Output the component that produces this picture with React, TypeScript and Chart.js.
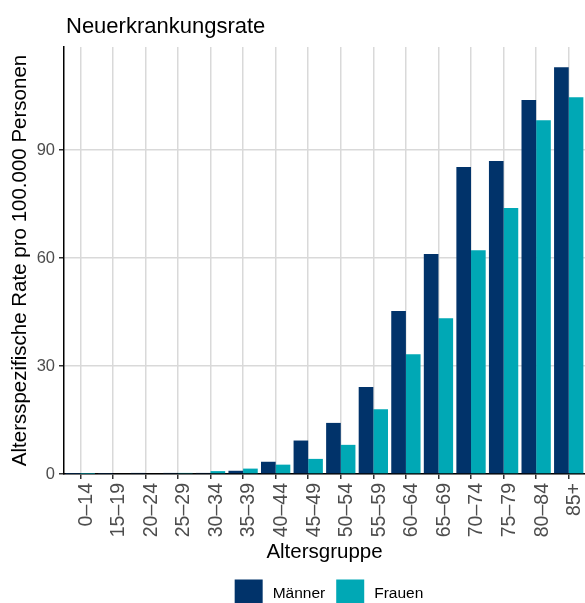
import React, { useEffect, useRef } from "react";
import { Chart, registerables } from "chart.js";

Chart.register(...registerables);

const categories = [
  "0–14", "15–19", "20–24", "25–29", "30–34", "35–39", "40–44", "45–49",
  "50–54", "55–59", "60–64", "65–69", "70–74", "75–79", "80–84", "85+",
];
const maenner = [0.05, 0.1, 0.3, 0.3, 0.3, 0.9, 3.4, 9.3, 14.2, 24.2, 45.3, 61.1, 85.3, 87.0, 103.9, 113.0];
const frauen = [0.05, 0.2, 0.2, 0.3, 0.8, 1.5, 2.6, 4.2, 8.1, 18.0, 33.3, 43.3, 62.2, 73.9, 98.3, 104.7];
const yTicks = [0, 30, 60, 90];
const seriesNames = ["Männer", "Frauen"];
const chartTitle = "Neuerkrankungsrate";
const xTitle = "Altersgruppe";
const yTitle = "Altersspezifische Rate pro 100.000 Personen";

const FONT = "'Liberation Sans', Arial, Helvetica, sans-serif";
const COLORS = ["#01336a", "#00a8b5"];

const titlePlugin = {
  id: "customTitle",
  afterDraw(chart: any) {
    const ctx = chart.ctx;
    ctx.save();
    ctx.font = `22px ${FONT}`;
    ctx.fillStyle = "#000";
    ctx.textAlign = "left";
    ctx.textBaseline = "alphabetic";
    ctx.fillText(chartTitle, chart.chartArea.left + 2, 33);
    ctx.restore();
  },
};

const legendPlugin = {
  id: "customLegend",
  afterDraw(chart: any) {
    const ctx = chart.ctx;
    ctx.save();
    ctx.font = `15.5px ${FONT}`;
    const box = 28;
    const gapText = 10;
    const gapItem = 11;
    const items = chart.data.datasets.map((d: any) => ({
      label: d.label,
      color: d.backgroundColor,
      w: ctx.measureText(d.label).width,
    }));
    const total = items.reduce(
      (s: number, it: any, i: number) => s + box + gapText + it.w + (i > 0 ? gapItem : 0),
      0
    );
    let x = (chart.chartArea.left + chart.chartArea.right) / 2 + 4.5 - total / 2;
    const cy = 593.5;
    items.forEach((it: any, i: number) => {
      if (i > 0) x += gapItem;
      ctx.fillStyle = it.color;
      ctx.fillRect(x, cy - box / 2, box, box);
      x += box + gapText;
      ctx.fillStyle = "#000";
      ctx.textAlign = "left";
      ctx.textBaseline = "middle";
      ctx.fillText(it.label, x, cy);
      x += it.w;
    });
    ctx.restore();
  },
};

export default function App() {
  const ref = useRef<HTMLCanvasElement | null>(null);

  useEffect(() => {
    document.body.style.margin = "0";
    if (!ref.current) return;
    const chart = new Chart(ref.current, {
      type: "bar",
      data: {
        labels: categories,
        datasets: [
          { label: seriesNames[0], data: maenner, backgroundColor: COLORS[0], categoryPercentage: 0.9, barPercentage: 1.0 },
          { label: seriesNames[1], data: frauen, backgroundColor: COLORS[1], categoryPercentage: 0.9, barPercentage: 1.0 },
        ],
      },
      options: {
        responsive: false,
        animation: false,
        devicePixelRatio: 1,
        layout: { padding: { top: 47, left: 0, right: 0, bottom: 0 } },
        plugins: {
          legend: { display: false },
          title: { display: false },
          tooltip: { enabled: false },
        },
        scales: {
          x: {
            offset: true,
            grid: {
              offset: false,
              color: "#d9d9d9",
              lineWidth: 1.5,
              drawTicks: true,
              tickLength: 5,
              tickColor: "#333333",
              tickWidth: 1.5,
            },
            border: { display: true, color: "#000", width: 1.5 },
            ticks: {
              autoSkip: false,
              minRotation: 90,
              maxRotation: 90,
              padding: 4,
              labelOffset: 6,
              color: "#4d4d4d",
              font: { family: FONT, size: 19.5 },
            },
            title: {
              display: true,
              text: xTitle,
              color: "#000",
              font: { family: FONT, size: 20.5 },
              padding: { top: 4, bottom: 38 },
            },
            afterFit: (s: any) => {
              s.height = 129;
              s.paddingLeft = 0;
              s.paddingRight = 0;
            },
          },
          y: {
            min: 0,
            max: 118.65,
            afterBuildTicks: (s: any) => {
              s.ticks = yTicks.map((v) => ({ value: v }));
            },
            grid: {
              color: "#d9d9d9",
              lineWidth: 1.5,
              drawTicks: true,
              tickLength: 5,
              tickColor: "#333333",
              tickWidth: 1.5,
            },
            border: { display: true, color: "#000", width: 1.5 },
            ticks: {
              padding: 4,
              color: "#4d4d4d",
              font: { family: FONT, size: 16.5 },
            },
            title: {
              display: true,
              text: yTitle,
              color: "#000",
              font: { family: FONT, size: 20.5 },
              padding: { top: 8, bottom: 0 },
            },
            afterFit: (s: any) => {
              s.width = 64;
              s.paddingTop = 0;
              s.paddingBottom = 0;
            },
          },
        },
      },
      plugins: [titlePlugin, legendPlugin],
    } as any);
    return () => chart.destroy();
  }, []);

  return (
    <div style={{ position: "absolute", left: 0, top: 0, width: 585, height: 603 }}>
      <canvas ref={ref} width={585} height={603} style={{ display: "block", width: 585, height: 603 }} />
    </div>
  );
}
